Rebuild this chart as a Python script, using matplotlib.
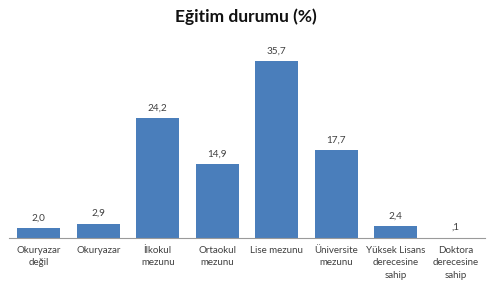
import matplotlib.pyplot as plt

kategoriler = ["Okuryazar\ndeğil", "Okuryazar", "İlkokul\nmezunu", "Ortaokul\nmezunu",
               "Lise mezunu", "Üniversite\nmezunu", "Yüksek Lisans\nderecesine\nsahip",
               "Doktora\nderecesine\nsahip"]
oranlar = [2.0, 2.9, 24.2, 14.9, 35.7, 17.7, 2.4, 0.1]
etiketler = ["2,0", "2,9", "24,2", "14,9", "35,7", "17,7", "2,4", ",1"]

plt.rcParams['font.family'] = ['Lato', 'DejaVu Sans']

fig = plt.figure(figsize=(4.92, 2.87), dpi=100)
ax = fig.add_axes([9/492, 49/287, 476/492, 198/287])

x = range(len(oranlar))
bars = ax.bar(x, oranlar, width=0.72, color='#4a7ebb')
for b, e in zip(bars, etiketler):
    ax.annotate(e, (b.get_x() + b.get_width()/2, b.get_height()),
                xytext=(0, 4), textcoords='offset points',
                ha='center', va='bottom', fontsize=7.2, color='#404040')

ax.set_xlim(-0.5, len(oranlar) - 0.5)
ax.set_ylim(0, 40)
ax.set_xticks(list(x))
ax.set_xticklabels(kategoriler, fontsize=7, color='#404040', linespacing=1.45)
ax.tick_params(axis='x', length=0, pad=6)
ax.set_yticks([])
for s in ['top', 'right', 'left']:
    ax.spines[s].set_visible(False)
ax.spines['bottom'].set_color('#9a9a9a')

fig.text(0.5, 1 - 17/287, "Eğitim durumu (%)", ha='center', va='center',
         fontsize=12.5, fontweight='bold', color='#111111')

fig.savefig("out.png", dpi=100)
